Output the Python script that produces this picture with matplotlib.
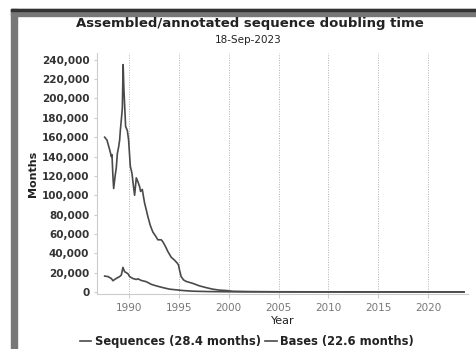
import numpy as np
import matplotlib.pyplot as plt
from matplotlib.patches import Rectangle
from matplotlib.ticker import FuncFormatter

# doubling time (months)
seq_years = [1987.57, 1987.8, 1988.07, 1988.24, 1988.3, 1988.4, 1988.47, 1988.63, 1988.73,
             1988.84, 1988.97, 1989.07, 1989.14, 1989.24, 1989.34, 1989.42, 1989.5, 1989.67,
             1989.84, 1989.97, 1990.14, 1990.3, 1990.45, 1990.57, 1990.74, 1990.9, 1991.07,
             1991.17, 1991.34, 1991.57, 1991.74, 1991.9, 1992.14, 1992.4, 1992.67, 1992.9,
             1993.24, 1993.4, 1993.67, 1993.9, 1994.24, 1994.57, 1994.84, 1994.97, 1995.07,
             1995.24, 1995.47, 1995.74, 1996.07, 1996.4, 1997.07, 1997.74, 1998.4, 1999.07,
             1999.74, 2000.4, 2002, 2005, 2010, 2015, 2020, 2023.6]
seq_months = [160000, 157000, 147000, 140000, 142000, 119000, 107000, 121000, 128000,
              143000, 150000, 157000, 167000, 178000, 190000, 235000, 209000, 171000,
              167000, 157000, 130000, 123000, 110000, 100000, 118000, 114000, 109000,
              104000, 106000, 92000, 85000, 78000, 69000, 62000, 58000, 54000,
              54000, 52000, 47000, 42000, 36000, 33000, 30000, 28000, 23000,
              16000, 12600, 11000, 10000, 9000, 6400, 4600, 3000, 2000,
              1600, 800, 500, 300, 200, 150, 120, 100]

base_years = [1987.57, 1987.9, 1988.24, 1988.4, 1988.57, 1988.8, 1989.07, 1989.24, 1989.4,
              1989.57, 1989.74, 1989.9, 1990.07, 1990.4, 1990.74, 1990.9, 1991.24, 1991.74,
              1992.24, 1992.74, 1993.4, 1994.07, 1994.74, 1995.4, 1996.4, 1998, 2000,
              2005, 2010, 2015, 2020, 2023.6]
base_months = [16500, 16000, 14000, 11700, 13000, 14500, 16000, 17600, 25500,
               21000, 20000, 19000, 16000, 14000, 13000, 13700, 12000, 10700,
               8000, 6400, 4600, 3000, 2300, 1600, 900, 500, 300,
               200, 150, 120, 100, 100]

series_names = ["Sequences", "Bases"]
doubling = [28.4, 22.6]

year_ticks = [1990, 1995, 2000, 2005, 2010, 2015, 2020]
month_ticks = np.arange(0, 240001, 20000)

fig = plt.figure(figsize=(4.76, 3.49), dpi=100)
W, H = 476, 349

# panel frame around the chart
fig.patches.append(Rectangle((11 / W, 0), 6 / W, 1 - 9 / H, transform=fig.transFigure,
                             color="#777777", zorder=0))
fig.patches.append(Rectangle((11 / W, 1 - 16 / H), 1, 7 / H, transform=fig.transFigure,
                             color="#777777", zorder=0))
fig.patches.append(Rectangle((11 / W, 1 - 10.5 / H), 1, 1.5 / H, transform=fig.transFigure,
                             color="#333333", zorder=0))

ax = fig.add_axes([97 / W, 1 - 294 / H, (468 - 97) / W, (294 - 53) / H])

l1, = ax.plot(seq_years, seq_months, color="#4a4a4a", lw=1.2)
l2, = ax.plot(base_years, base_months, color="#4a4a4a", lw=1.2)

ax.set_xlim(1986.8, 2024)
ax.set_ylim(-2000, 247000)
ax.set_xticks(year_ticks)
ax.set_yticks(month_ticks)
ax.yaxis.set_major_formatter(FuncFormatter(lambda v, p: "{:,.0f}".format(v)))

for s in ["top", "right"]:
    ax.spines[s].set_visible(False)
for s in ["left", "bottom"]:
    ax.spines[s].set_color("#cccccc")
ax.xaxis.grid(True, color="#b0b0b0", linestyle=(0, (1, 1.5)), lw=0.7)
ax.tick_params(axis="x", colors="#cccccc", labelcolor="#777777", labelsize=7.5, length=3)
ax.tick_params(axis="y", colors="#cccccc", labelcolor="#333333", labelsize=7.5, length=2)
for lab in ax.get_yticklabels():
    lab.set_fontweight("bold")

ax.set_xlabel("Year", fontsize=8, color="#222222", labelpad=2)
ax.set_ylabel("Months", fontsize=8, color="#222222", fontweight="bold", labelpad=3)

fig.text(250 / W, 1 - 24 / H, "Assembled/annotated sequence doubling time",
         ha="center", va="center", fontsize=9.5, fontweight="bold", color="#222222")
fig.text(248 / W, 1 - 40 / H, "18-Sep-2023", ha="center", va="center",
         fontsize=7.5, color="#222222")

labels = ["%s (%.1f months)" % (n, d) for n, d in zip(series_names, doubling)]
fig.legend([l1, l2], labels, loc="center", bbox_to_anchor=(247 / W, 1 - 342 / H),
           ncol=2, frameon=False, handlelength=1.0, handletextpad=0.3,
           columnspacing=0.4, prop={"weight": "bold", "size": 8.3}, labelcolor="#222222")

fig.savefig("out.png", dpi=100)
